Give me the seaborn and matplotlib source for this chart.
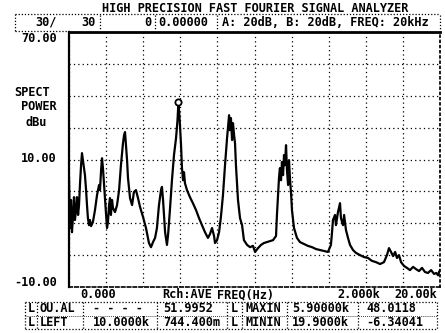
import numpy as np
import pandas as pd
import matplotlib
matplotlib.use('Agg')
import matplotlib.pyplot as plt
import seaborn as sns

# Trace: frequency (kHz) and spectral power (dBu)
freq_khz = [0.00, 0.05, 0.11, 0.16, 0.22, 0.27, 0.32, 0.38, 0.43, 0.49,
            0.54, 0.59, 0.65, 0.70, 0.75, 0.81, 0.86, 0.92, 0.97, 1.02,
            1.08, 1.13, 1.19, 1.29, 1.40, 1.51, 1.62, 1.67, 1.73, 1.78,
            1.83, 1.89, 1.94, 2.00, 2.05, 2.10, 2.16, 2.21, 2.26, 2.32,
            2.37, 2.48, 2.59, 2.70, 2.80, 2.91, 2.97, 3.02, 3.07, 3.13,
            3.18, 3.29, 3.40, 3.50, 3.61, 3.72, 3.83, 3.99, 4.15, 4.31,
            4.42, 4.53, 4.64, 4.74, 4.85, 4.96, 5.01, 5.07, 5.18, 5.28,
            5.34, 5.44, 5.55, 5.66, 5.77, 5.85, 5.90, 5.96, 6.04, 6.09,
            6.15, 6.20, 6.25, 6.36, 6.52, 6.68, 6.85, 7.01, 7.17, 7.33,
            7.49, 7.60, 7.71, 7.82, 7.87, 7.98, 8.09, 8.19, 8.30, 8.41,
            8.52, 8.63, 8.68, 8.73, 8.79, 8.84, 8.90, 8.95, 9.00, 9.11,
            9.22, 9.33, 9.43, 9.60, 9.76, 9.92, 10.03, 10.19, 10.35, 10.51,
            10.67, 10.84, 11.00, 11.16, 11.21, 11.27, 11.32, 11.37, 11.43, 11.48,
            11.54, 11.59, 11.64, 11.70, 11.75, 11.81, 11.86, 11.91, 11.97, 12.02,
            12.13, 12.29, 12.45, 12.67, 12.88, 13.10, 13.32, 13.53, 13.75, 13.96,
            14.12, 14.18, 14.23, 14.34, 14.39, 14.50, 14.61, 14.66, 14.77, 14.83,
            14.93, 15.04, 15.15, 15.31, 15.47, 15.69, 15.90, 16.12, 16.33, 16.55,
            16.77, 16.98, 17.14, 17.25, 17.36, 17.47, 17.58, 17.68, 17.79, 17.90,
            18.06, 18.22, 18.38, 18.55, 18.71, 18.87, 19.03, 19.19, 19.35, 19.52,
            19.68, 19.80, 19.90, 19.95, 20.00]
power_dbu = [24.5, 8.5, 17.3, 7.2, 12.6, 18.2, 11.0, 14.1, 18.2, 12.6,
             15.7, 22.0, 28.2, 32.0, 29.8, 27.3, 25.1, 20.4, 15.7, 11.6,
             9.4, 11.0, 9.1, 10.4, 14.1, 18.8, 22.0, 20.4, 26.7, 30.4,
             27.3, 22.0, 17.3, 12.6, 8.5, 10.4, 15.7, 17.9, 12.6, 17.3,
             14.8, 13.5, 15.7, 20.4, 28.2, 35.1, 37.7, 38.6, 34.5, 29.8,
             24.2, 17.9, 15.7, 19.8, 20.4, 17.9, 15.1, 12.0, 8.5, 3.8,
             2.5, 4.1, 5.4, 8.5, 15.7, 20.4, 21.4, 17.3, 7.2, 3.2,
             6.3, 14.1, 23.5, 31.4, 36.7, 42.4, 48.0, 43.0, 34.5, 27.3,
             23.5, 26.0, 22.6, 20.4, 18.2, 16.3, 14.1, 11.6, 9.4, 7.2,
             5.4, 6.6, 8.5, 6.0, 3.8, 4.7, 7.2, 12.0, 18.8, 28.2,
             36.7, 43.9, 39.2, 43.0, 36.1, 41.4, 37.7, 35.1, 28.2, 17.3,
             11.6, 9.4, 4.7, 3.2, 2.5, 2.9, 1.0, 2.2, 3.2, 3.8,
             4.1, 4.4, 4.7, 6.0, 12.6, 18.8, 24.2, 27.3, 23.5, 29.2,
             25.1, 31.4, 28.2, 34.5, 26.7, 22.0, 29.8, 24.2, 19.5, 14.1,
             8.5, 5.4, 4.1, 3.5, 2.9, 2.5, 1.9, 1.6, 1.3, 1.0,
             3.2, 7.2, 11.0, 12.6, 9.4, 13.5, 16.3, 11.6, 9.4, 12.6,
             7.9, 5.4, 3.2, 1.6, 0.7, 0.0, -0.6, -0.9, -1.8, -2.2,
             -2.8, -2.2, 0.0, 2.2, 1.0, -0.3, 1.0, -0.9, 0.0, -2.2,
             -3.4, -4.0, -4.7, -3.7, -4.4, -5.0, -4.0, -5.3, -5.6, -4.7,
             -5.9, -5.6, -6.34, -5.3, -4.7]

peak_freq = 5.90
peak_dbu = 48.0118

title = 'HIGH PRECISION FAST FOURIER SIGNAL ANALYZER'
y_labels = ['70.00', '10.00', '-10.00']
x_labels = ['0.000', 'Rch:AVE', 'FREQ(Hz)', '2.000k', '20.00k']
row1 = ['L', 'OU.AL', '- - - -', '51.9952', 'L', 'MAXIN', '5.90000k', '48.0118']
row2 = ['L', 'LEFT', '10.0000k', '744.400m', 'L', 'MININ', '19.9000k', '-6.34041']

sns.set_theme(style='white')
plt.rcParams['font.family'] = ['DejaVu Sans Mono']

W, H = 445, 333
fig = plt.figure(figsize=(W / 100, H / 100), dpi=100)
ax = fig.add_axes([69 / W, 1 - 287 / H, (440 - 69) / W, (287 - 32) / H])

df = pd.DataFrame({'freq': freq_khz, 'power': power_dbu})
sns.lineplot(data=df, x='freq', y='power', ax=ax, color='black', lw=1.6,
             sort=False, estimator=None)
ax.plot([peak_freq], [peak_dbu], 'o', mfc='white', mec='black', ms=4.5, mew=1.3)

ax.set_xlim(0, 20)
ax.set_ylim(-10, 70)
ax.set_xticks(np.arange(0, 21, 2))
ax.set_yticks(np.arange(-10, 71, 10))
ax.set_xticklabels([])
ax.set_yticklabels([])
ax.tick_params(length=0)
ax.set_xlabel('')
ax.set_ylabel('')
ax.grid(True, color='black', linestyle=(0, (1, 2.5)), lw=0.9)

ax.spines['top'].set_linewidth(2)
ax.spines['left'].set_linestyle((0, (2, 1)))
ax.spines['left'].set_linewidth(1.6)
ax.spines['bottom'].set_linestyle((0, (2, 1.5)))
ax.spines['bottom'].set_linewidth(1.2)
ax.spines['right'].set_linestyle((0, (1, 2)))
for s in ax.spines.values():
    s.set_color('black')

fs = 8.6
kw = dict(fontsize=fs, fontweight='bold', color='black', va='center')


def fx(x):
    return x / W


def fy(y):
    return 1 - y / H


def dotted(x0, y0, x1, y1, lw=0.9):
    fig.add_artist(plt.Line2D([fx(x0), fx(x1)], [fy(y0), fy(y1)], color='black',
                              lw=lw, linestyle=(0, (1, 1.5))))


# title and header strip
fig.text(fx(255), fy(8), title, ha='center', **kw)
dotted(15, 14, 440, 14)
dotted(15, 14, 15, 31)
dotted(15, 31, 69, 31)
for xs in [100, 155, 217, 440]:
    dotted(xs, 15, xs, 30)
fig.text(fx(57), fy(22), '30/', ha='right', **kw)
fig.text(fx(96), fy(22), '30', ha='right', **kw)
fig.text(fx(151), fy(22), '0', ha='right', **kw)
fig.text(fx(158), fy(22), '0.00000', ha='left', **kw)
fig.text(fx(222), fy(22), 'A: 20dB, B: 20dB, FREQ: 20kHz', ha='left', **kw)

# y-axis readouts
fig.text(fx(57), fy(38), y_labels[0], ha='right', **kw)
fig.text(fx(32), fy(92), 'SPECT', ha='center', **kw)
fig.text(fx(39), fy(107), 'POWER', ha='center', **kw)
fig.text(fx(36), fy(122), 'dBu', ha='center', **kw)
fig.text(fx(57), fy(159), y_labels[1], ha='right', **kw)
fig.text(fx(57), fy(282), y_labels[2], ha='right', **kw)

# x-axis readouts
x_pos = [80, 162, 217, 337]
for xp, lab in zip(x_pos, x_labels[:4]):
    fig.text(fx(xp), fy(295), lab, ha='left', **kw)
fig.text(fx(437), fy(295), x_labels[4], ha='right', **kw)

# measurement table
t_top, t_mid, t_bot = 302, 315.5, 329
dotted(25, t_top, 437, t_top)
dotted(25, t_mid, 437, t_mid, lw=0.6)
dotted(25, t_bot, 437, t_bot)
for xs in [25, 37, 83, 157, 227, 242, 287, 358, 437]:
    dotted(xs, t_top, xs, t_bot)
cell_x = [28, 40, 93, 163, 231, 245, 292, 366]
for cx, a, b in zip(cell_x, row1, row2):
    fig.text(fx(cx), fy(309), a, ha='left', **kw)
    fig.text(fx(cx), fy(322), b, ha='left', **kw)

fig.savefig('out.png', dpi=100, facecolor='white')
